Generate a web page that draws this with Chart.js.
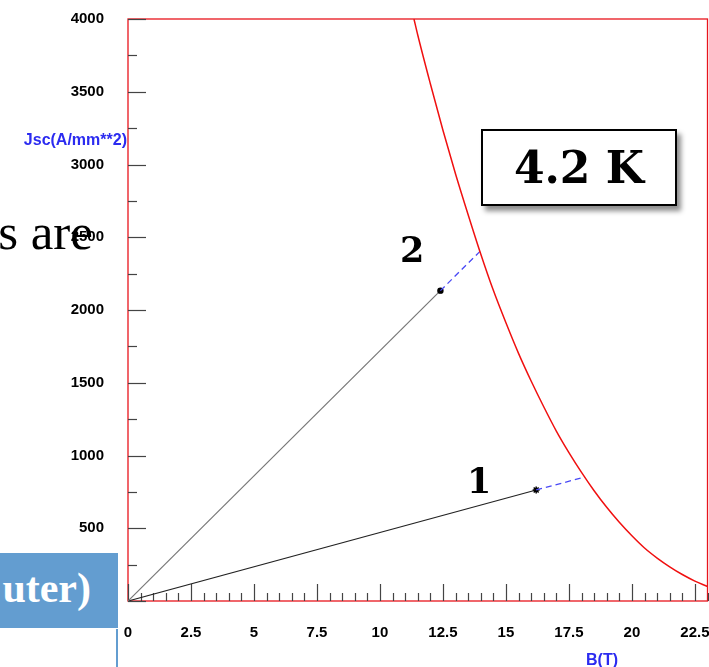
<!DOCTYPE html>
<html>
<head>
<meta charset="utf-8">
<script src="https://cdn.jsdelivr.net/npm/chart.js@4.4.1/dist/chart.umd.min.js"></script>
<style>
  html, body { margin: 0; padding: 0; background: #fff; overflow: hidden; }
  #wrap { position: relative; width: 709px; height: 667px; overflow: hidden; }
  canvas { position: absolute; left: 0; top: 0; }
  .txt { position: absolute; white-space: nowrap; line-height: 1; }
</style>
</head>
<body>
<div id="wrap">
  <!-- a bit wider than the window: the right frame sits right on the edge -->
  <canvas id="c" width="713" height="667"></canvas>

  <!-- bits of the slide behind the plot -->
  <div class="txt" style="left:-200px; width:293px; top:203px; text-align:right; font:51px 'Liberation Serif', serif; color:#000;">s are</div>
  <div style="position:absolute; left:0; top:553px; width:118px; height:75px; background:#639dd0;"></div>
  <div class="txt" style="left:-200px; width:291px; top:564px; text-align:right; font:bold 42px 'Liberation Serif', serif; color:#fff;">uter)</div>
  <div style="position:absolute; left:116px; top:629px; width:2px; height:40px; background:#639dd0;"></div>

  <!-- axis titles -->
  <div class="txt" style="left:-100px; width:227px; top:131px; text-align:right; font:bold 16px 'Liberation Sans', Arial, sans-serif; color:#2b2bf0;">Jsc(A/mm**2)</div>
  <div class="txt" style="left:552px; width:100px; top:651px; text-align:center; font:bold 16px 'Liberation Sans', Arial, sans-serif; color:#2b2bf0;">B(T)</div>

  <!-- annotations -->
  <div class="txt" style="left:400px; top:229px; font:bold 35px 'DejaVu Serif', serif; color:#000;">2</div>
  <div class="txt" style="left:467px; top:460px; font:bold 35px 'DejaVu Serif', serif; color:#000;">1</div>
  <div style="position:absolute; left:481px; top:129px; width:192px; height:73px; border:2px solid #000; background:#fff; box-shadow:4px 5px 5px rgba(0,0,0,0.45); display:flex; align-items:center; justify-content:center; font:bold 44px 'DejaVu Serif', serif; color:#000;">4.2 K</div>
</div>

<script>
/* ===== DATA ===== */
// critical current curve Jc(B) at 4.2 K
const curveB = [11.35, 11.5, 12, 12.5, 13, 13.5, 14, 14.5, 15, 15.5, 16, 16.5, 17, 17.5, 18, 18.5, 19, 19.5, 20, 20.5, 21, 21.5, 22, 22.5, 23];
const curveJ = [4000, 3890, 3555, 3235, 2935, 2655, 2385, 2135, 1912, 1702, 1512, 1335, 1168, 1020, 884, 758, 644, 541, 448, 364, 295, 235, 182, 137, 100];

// load lines
const load1B = [0, 16.2];
const load1J = [0, 763];
const load2B = [0, 12.4];
const load2J = [0, 2133];

// dashed extensions up to the critical curve
const ext1B = [16.2, 18.13];
const ext1J = [763, 852];
const ext2B = [12.4, 13.97];
const ext2J = [2133, 2403];

const xRange = [0, 23];
const yRange = [0, 4000];
const xMinorStep = 0.5, xMajorStep = 2.5;
const yMinorStep = 250, yMajorStep = 500;

const pts = (xs, ys) => xs.map((x, i) => ({ x, y: ys[i] }));
const isMajor = (v, step) => Math.abs(v / step - Math.round(v / step)) < 1e-6;

/* ===== frame + inside ticks (ROOT style) ===== */
const frameTicks = {
  id: "frameTicks",
  beforeDatasetsDraw(chart) {
    const { ctx, chartArea: a, scales } = chart;
    ctx.save();
    ctx.strokeStyle = "#e8141c";
    ctx.lineWidth = 1.3;
    ctx.strokeRect(a.left, a.top, a.right - a.left, a.bottom - a.top);

    ctx.lineWidth = 1.2;
    ctx.strokeStyle = "#444";
    scales.x.ticks.forEach(t => {
      const px = Math.round(scales.x.getPixelForValue(t.value)) + 0.5;
      const len = isMajor(t.value, xMajorStep) ? 17 : 8;
      ctx.beginPath();
      ctx.moveTo(px, a.bottom);
      ctx.lineTo(px, a.bottom - len);
      ctx.stroke();
    });
    scales.y.ticks.forEach(t => {
      const py = Math.round(scales.y.getPixelForValue(t.value)) + 0.5;
      const len = isMajor(t.value, yMajorStep) ? 18 : 9;
      ctx.beginPath();
      ctx.moveTo(a.left, py);
      ctx.lineTo(a.left + len, py);
      ctx.stroke();
    });
    ctx.restore();
  }
};

const tickFont = { family: "'Liberation Sans', Arial, sans-serif", size: 15, weight: "bold" };

new Chart(document.getElementById("c"), {
  type: "scatter",
  data: {
    datasets: [
      {
        data: pts(curveB, curveJ),
        showLine: true,
        borderColor: "#f01010",
        borderWidth: 1.5,
        pointRadius: 0,
        cubicInterpolationMode: "monotone"
      },
      {
        data: pts(ext2B, ext2J),
        showLine: true,
        borderColor: "#4a4af5",
        borderWidth: 1.3,
        borderDash: [6, 4],
        pointRadius: 0
      },
      {
        data: pts(ext1B, ext1J),
        showLine: true,
        borderColor: "#4a4af5",
        borderWidth: 1.3,
        borderDash: [6, 4],
        pointRadius: 0
      },
      {
        data: pts(load2B, load2J),
        showLine: true,
        borderColor: "#777",
        borderWidth: 1.2,
        pointRadius: [0, 2.6],
        pointBackgroundColor: "#000",
        pointBorderColor: "#000"
      },
      {
        data: pts(load1B, load1J),
        showLine: true,
        borderColor: "#222",
        borderWidth: 1.2,
        pointStyle: "star",
        pointRadius: [0, 3.5],
        pointBackgroundColor: "#000",
        pointBorderColor: "#000",
        pointBorderWidth: 1.5
      }
    ]
  },
  options: {
    responsive: false,
    animation: false,
    events: [],
    layout: { padding: { left: 0, top: 19, right: 1, bottom: 0 } },
    plugins: { legend: { display: false }, tooltip: { enabled: false } },
    scales: {
      x: {
        type: "linear",
        min: xRange[0],
        max: xRange[1],
        // tickLength only used to push the labels down; grid itself is hidden
        grid: { display: false, drawTicks: true, tickLength: 23 },
        border: { display: false },
        ticks: {
          stepSize: xMinorStep,
          autoSkip: false,
          maxRotation: 0,
          padding: 0,
          color: "#000",
          font: tickFont,
          callback: v => isMajor(v, xMajorStep) ? String(v) : ""
        },
        afterFit: s => { s.height = 66; }
      },
      y: {
        type: "linear",
        min: yRange[0],
        max: yRange[1],
        grid: { display: false, drawTicks: true, tickLength: 24 },
        border: { display: false },
        ticks: {
          stepSize: yMinorStep,
          autoSkip: false,
          padding: 0,
          color: "#000",
          font: tickFont,
          callback: v => isMajor(v, yMajorStep) ? String(v) : ""
        },
        afterFit: s => { s.width = 128; }
      }
    }
  },
  plugins: [frameTicks]
});
</script>
</body>
</html>
